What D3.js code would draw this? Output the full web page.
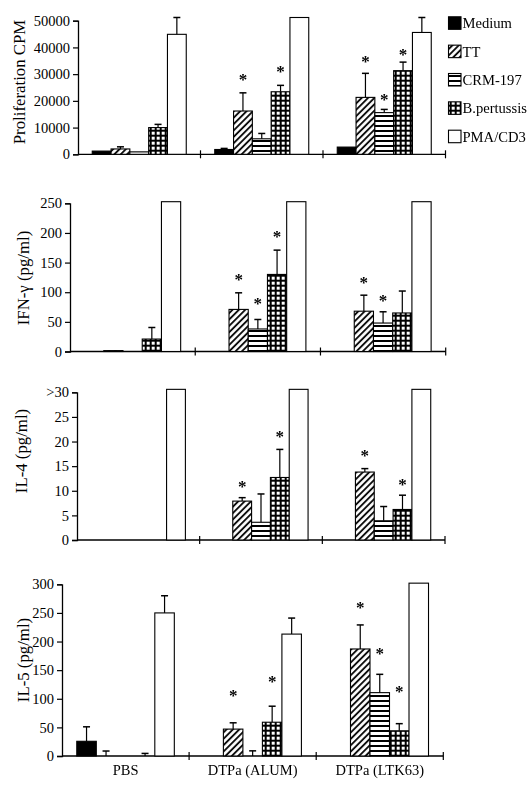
<!DOCTYPE html>
<html><head><meta charset="utf-8">
<script src="https://cdn.jsdelivr.net/npm/d3@7"></script>
<style>
body{margin:0;background:#fff}
svg{display:block}
text{font-family:"Liberation Serif","Times New Roman",serif;fill:#000}
.star{opacity:0.99;will-change:transform}
</style>
</head><body><svg id="c" width="529" height="798"></svg>
<script>
const groups = ["PBS", "DTPa (ALUM)", "DTPa (LTK63)"];
const series = ["Medium", "TT", "CRM-197", "B.pertussis", "PMA/CD3"];

// Proliferation CPM: rows = series, columns = groups
const prolifMeans = [
  [1200, 1800, 2700],
  [2000, 16200, 21300],
  [900, 5800, 15600],
  [10000, 23400, 31300],
  [44900, 51200, 45600]
];
const prolifSD = [
  [0, 400, 0],
  [800, 6800, 9000],
  [0, 2000, 1200],
  [1200, 2400, 3200],
  [6300, 0, 5600]
];
const prolifStars = [
  [null, null, null],
  [null, 29300, 35900],
  [null, null, 21800],
  [null, 32300, 38800],
  [null, null, null]
];
const prolifTicks = [0, 10000, 20000, 30000, 40000, 50000];
const prolifTickLabels = ["0", "10000", "20000", "30000", "40000", "50000"];

// IFN-gamma (pg/ml)
const ifnMeans = [
  [0, 0, 0],
  [1.5, 71, 68],
  [0, 38, 48],
  [21, 130, 65],
  [252.7, 252.7, 252.7]
];
const ifnSD = [
  [0, 0, 0],
  [0, 28, 27],
  [0, 16, 19],
  [19.5, 41, 37],
  [0, 0, 0]
];
const ifnStars = [
  [null, null, null],
  [null, 127.5, 122.5],
  [null, 87, 92.6],
  [null, 199.7, null],
  [null, null, null]
];
const ifnTicks = [0, 50, 100, 150, 200, 250];
const ifnTickLabels = ["0", "50", "100", "150", "200", "250"];

// IL-4 (pg/ml)
const il4Means = [
  [0, 0, 0],
  [0, 7.9, 13.8],
  [0, 3.6, 3.9],
  [0, 12.7, 6.2],
  [30.6, 30.6, 30.6]
];
const il4SD = [
  [0, 0, 0],
  [0, 0.7, 0.7],
  [0, 5.75, 2.9],
  [0, 5.7, 2.9],
  [0, 0, 0]
];
const il4Stars = [
  [null, null, null],
  [null, 11.6, 17.9],
  [null, null, null],
  [null, 21.8, 12.05],
  [null, null, null]
];
const il4Ticks = [0, 5, 10, 15, 20, 25, 30];
const il4TickLabels = ["0", "5", "10", "15", "20", "25", ">30"];

// IL-5 (pg/ml)
const il5Means = [
  [25.7, 0, 0],
  [0, 47, 187],
  [0, 0, 110.7],
  [0, 59, 44],
  [250, 213, 302]
];
const il5SD = [
  [25.3, 0, 0],
  [8.7, 11, 42],
  [0, 9, 32],
  [4.5, 28, 12.5],
  [30, 28, 0]
];
const il5Stars = [
  [null, null, null],
  [null, 112.4, 265],
  [null, null, 185],
  [null, 135.8, 119.4],
  [null, null, null]
];
const il5Ticks = [0, 50, 100, 150, 200, 250, 300];
const il5TickLabels = ["0", "50", "100", "150", "200", "250", "300"];

const panels = [
  {means: prolifMeans, sd: prolifSD, stars: prolifStars, ticks: prolifTicks, tickLabels: prolifTickLabels,
   label: "Proliferation CPM", x0: 78, x1: 445.5, yTop: 20.7, y0: 154.3, lx: 25, ly: 82},
  {means: ifnMeans, sd: ifnSD, stars: ifnStars, ticks: ifnTicks, tickLabels: ifnTickLabels,
   label: "IFN-\u03b3 (pg/ml)", x0: 70, x1: 445.7, yTop: 203.3, y0: 351.5, lx: 28.5, ly: 278},
  {means: il4Means, sd: il4SD, stars: il4Stars, ticks: il4Ticks, tickLabels: il4TickLabels,
   label: "IL-4 (pg/ml)", x0: 77, x1: 445, yTop: 392.3, y0: 540, lx: 27, ly: 451},
  {means: il5Means, sd: il5SD, stars: il5Stars, ticks: il5Ticks, tickLabels: il5TickLabels,
   label: "IL-5 (pg/ml)", x0: 62, x1: 443.3, yTop: 584.3, y0: 756, lx: 28.5, ly: 660, xLabels: true}
];

const svg = d3.select("#c");
const defs = svg.append("defs");

// patterns
const pTT = defs.append("pattern").attr("id", "pTT").attr("patternUnits", "userSpaceOnUse")
  .attr("width", 4.5).attr("height", 4.5).attr("patternTransform", "rotate(45)");
pTT.append("rect").attr("width", 4.5).attr("height", 4.5).attr("fill", "#fff");
pTT.append("line").attr("x1", 1).attr("y1", 0).attr("x2", 1).attr("y2", 4.5).attr("stroke", "#000").attr("stroke-width", 1.8);

const pCRM = defs.append("pattern").attr("id", "pCRM").attr("patternUnits", "userSpaceOnUse")
  .attr("width", 5).attr("height", 5);
pCRM.append("rect").attr("width", 5).attr("height", 5).attr("fill", "#fff");
pCRM.append("rect").attr("y", 0).attr("width", 5).attr("height", 2).attr("fill", "#000");

const pBP = defs.append("pattern").attr("id", "pBP").attr("patternUnits", "userSpaceOnUse")
  .attr("width", 5).attr("height", 5);
pBP.append("rect").attr("width", 5).attr("height", 5).attr("fill", "#000");
pBP.append("rect").attr("x", 1.7).attr("y", 1.7).attr("width", 3).attr("height", 3).attr("fill", "#fff");

const fills = ["#000", "url(#pTT)", "url(#pCRM)", "url(#pBP)", "#fff"];

panels.forEach(p => {
  const maxV = p.ticks[p.ticks.length - 1];
  const y = d3.scaleLinear().domain([0, maxV]).range([p.y0, p.yTop]);
  const gx = d3.scaleBand().domain(groups).range([p.x0, p.x1]).paddingInner(0).paddingOuter(0);
  const sx = d3.scaleBand().domain(series).range([0, gx.bandwidth()]).paddingInner(0).paddingOuter(0.758);
  const g = svg.append("g");

  // y axis
  const ya = g.append("g").attr("transform", `translate(${p.x0},0)`)
    .call(d3.axisLeft(y).tickValues(p.ticks).tickFormat((d, i) => p.tickLabels[i]).tickSizeOuter(0).tickSize(5).tickPadding(3));
  ya.select(".domain").attr("stroke", "#000").attr("stroke-width", 1.3);
  ya.selectAll(".tick line").attr("stroke", "#000").attr("stroke-width", 1.2);
  ya.selectAll(".tick text").attr("font-size", "14.5px").attr("font-family", "'Liberation Serif', serif").attr("fill", "#000");

  // x axis baseline
  g.append("line").attr("x1", p.x0).attr("x2", p.x1).attr("y1", p.y0).attr("y2", p.y0)
    .attr("stroke", "#000").attr("stroke-width", 1.3);
  g.selectAll(".sep").data(groups).enter().append("line")
    .attr("x1", d => gx(d) + gx.bandwidth()).attr("x2", d => gx(d) + gx.bandwidth())
    .attr("y1", p.y0 - 4).attr("y2", p.y0 + 4).attr("stroke", "#000").attr("stroke-width", 1.2);

  // y label
  g.append("text").attr("transform", `translate(${p.lx},${p.ly}) rotate(-90)`)
    .attr("text-anchor", "middle").attr("font-size", "16.8px").text(p.label);

  // bars
  series.forEach((s, i) => {
    groups.forEach((gr, j) => {
      const v = p.means[i][j];
      const sd = p.sd[i][j];
      const bx = gx(gr) + sx(s);
      const bw = sx.bandwidth();
      const cx = bx + bw / 2;
      if (v > 0) {
        g.append("rect").attr("x", bx).attr("y", y(v)).attr("width", bw).attr("height", p.y0 - y(v))
          .attr("fill", fills[i]).attr("stroke", "#000").attr("stroke-width", 1.1);
      }
      if (sd > 0) {
        g.append("line").attr("x1", cx).attr("x2", cx).attr("y1", y(v)).attr("y2", y(v + sd))
          .attr("stroke", "#000").attr("stroke-width", 1.2);
        g.append("line").attr("x1", cx - 3.5).attr("x2", cx + 3.5).attr("y1", y(v + sd)).attr("y2", y(v + sd))
          .attr("stroke", "#000").attr("stroke-width", 1.5);
      }
      const st = p.stars[i][j];
      if (st !== null) {
        g.append("text").attr("class", "star").attr("x", cx).attr("y", y(st) + 9).attr("text-anchor", "middle")
          .attr("font-size", "17px").attr("font-weight", "bold").attr("fill", "#000").text("*");
      }
    });
  });

  if (p.xLabels) {
    g.selectAll(".xl").data(groups).enter().append("text")
      .attr("x", d => gx(d) + gx.bandwidth() / 2).attr("y", 775)
      .attr("text-anchor", "middle").attr("font-size", "14.5px").text(d => d);
  }
});

// legend
const leg = svg.append("g");
series.forEach((s, i) => {
  const cy = 23.3 + i * 28.35;
  leg.append("rect").attr("x", 448.5).attr("y", cy - 6.5).attr("width", 12.5).attr("height", 12.5)
    .attr("fill", fills[i]).attr("stroke", "#000").attr("stroke-width", 1.1);
  leg.append("text").attr("x", 462.5).attr("y", cy + 5).attr("font-size", "14.6px").text(s);
});
</script>
</body></html>
